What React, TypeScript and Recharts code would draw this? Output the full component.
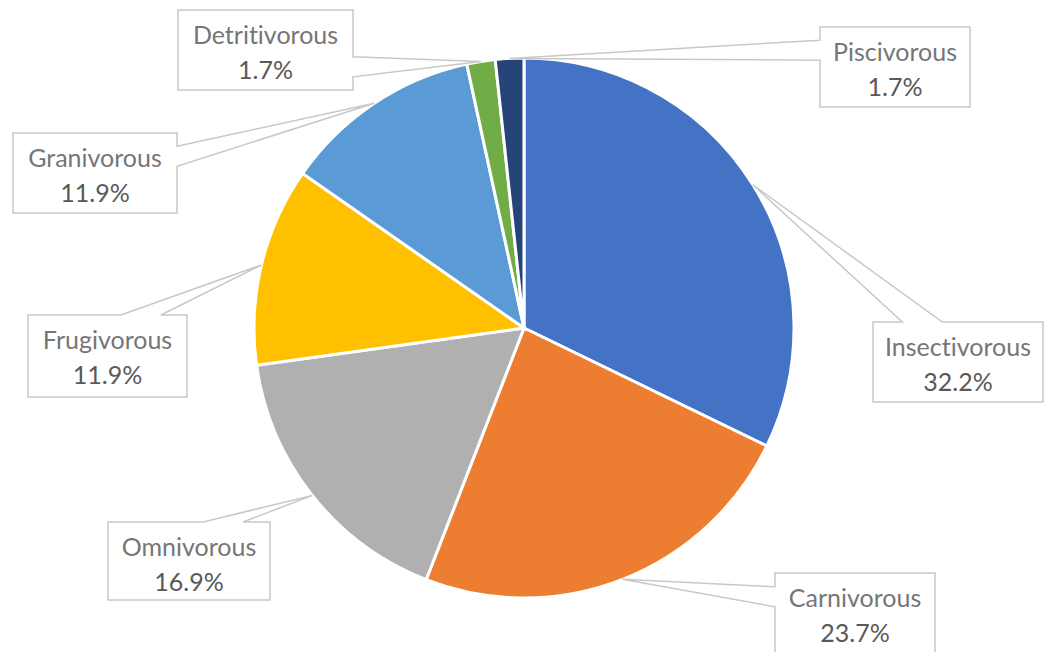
import React from "react";
import { PieChart, Pie, Cell } from "recharts";

const categories = [
  "Insectivorous",
  "Carnivorous",
  "Omnivorous",
  "Frugivorous",
  "Granivorous",
  "Detritivorous",
  "Piscivorous",
];
const shares = [32.2, 23.7, 16.9, 11.9, 11.9, 1.7, 1.7];
const colors = ["#4472C4", "#ED7D31", "#B0B0B0", "#FFC000", "#5B9BD5", "#70AD47", "#264478"];

// callout box placement [x, y, width, height], same order as categories
const calloutBoxes = [
  [873, 322, 170, 80],
  [775, 573, 160, 82],
  [108, 522, 162, 78],
  [28, 315, 159, 82],
  [13, 133, 164, 80],
  [178, 10, 175, 80],
  [820, 27, 150, 80],
];

const data = categories.map((name, i) => ({ name, value: shares[i] }));
const RADIAN = Math.PI / 180;
const FONT = "Lato, 'Open Sans', sans-serif";

function Callout(props: any) {
  const { cx, cy, midAngle, outerRadius, index, name, value } = props;
  const tx = cx + outerRadius * Math.cos(-midAngle * RADIAN);
  const ty = cy + outerRadius * Math.sin(-midAngle * RADIAN);
  const [x, y, w, h] = calloutBoxes[index];
  const bx = x + w / 2;
  const by = y + h / 2;
  const dx = tx - bx;
  const dy = ty - by;
  let d: string;
  if (Math.abs(dy) / h > (Math.abs(dx) / w) * 0.9) {
    // tail on top or bottom edge
    const c = dx < 0 ? x + w * 0.29 : x + w * 0.71;
    const hw = 20;
    if (dy < 0) {
      d = `M${x},${y} L${c - hw},${y} L${tx},${ty} L${c + hw},${y} L${x + w},${y} L${x + w},${y + h} L${x},${y + h} Z`;
    } else {
      d = `M${x},${y} L${x + w},${y} L${x + w},${y + h} L${c + hw},${y + h} L${tx},${ty} L${c - hw},${y + h} L${x},${y + h} Z`;
    }
  } else {
    const c = dy < 0 ? y + h * 0.29 : y + h * 0.71;
    const hh = 10;
    if (dx < 0) {
      d = `M${x},${y} L${x + w},${y} L${x + w},${y + h} L${x},${y + h} L${x},${c + hh} L${tx},${ty} L${x},${c - hh} Z`;
    } else {
      d = `M${x},${y} L${x + w},${y} L${x + w},${c - hh} L${tx},${ty} L${x + w},${c + hh} L${x + w},${y + h} L${x},${y + h} Z`;
    }
  }
  return (
    <g style={{ fontVariantLigatures: "none" }}>
      <path d={d} fill="#FFFFFF" stroke="#C8C8C8" strokeWidth={1.5} />
      <text x={bx} y={y + 34} textAnchor="middle" fontSize={25} fill="#767676" fontFamily={FONT}>
        {name}
      </text>
      <text x={bx} y={y + 69} textAnchor="middle" fontSize={25} fill="#595959" fontFamily={FONT}>
        {value.toFixed(1)}%
      </text>
    </g>
  );
}

export default function App() {
  return (
    <div style={{ position: "absolute", left: 0, top: 0, background: "#FFFFFF" }}>
      <PieChart width={1045} height={652} margin={{ top: 0, right: 0, bottom: 0, left: 0 }}>
        <Pie
          data={data}
          dataKey="value"
          nameKey="name"
          cx={524}
          cy={328}
          outerRadius={270}
          startAngle={90}
          endAngle={-270}
          stroke="#FFFFFF"
          strokeWidth={3}
          label={Callout}
          labelLine={false}
          isAnimationActive={false}
        >
          {data.map((d, i) => (
            <Cell key={d.name} fill={colors[i]} />
          ))}
        </Pie>
      </PieChart>
    </div>
  );
}
